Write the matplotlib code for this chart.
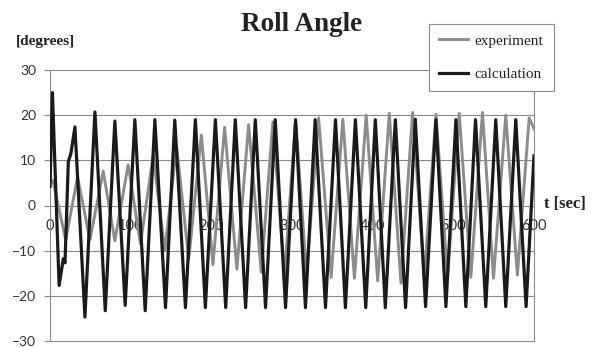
import matplotlib.pyplot as plt

# experiment (gray) - peaks/troughs
t_exp = [0, 2, 4, 19.4, 34.2, 49.5, 66, 80.4, 96.9, 112.2, 127.9, 142.3, 157,
         172, 187.6, 202, 216.5, 231.7, 246.2, 261.9, 276.3, 290.7, 304.5,
         318, 333, 348.5, 363, 377.4, 392, 406.2, 420.6, 435.1, 449.5, 464,
         478.5, 492.8, 507.3, 521.7, 536.1, 549.8, 565, 579.4, 594, 600]
v_exp = [4.8, 5.7, 5.2, -7.6, 6.3, -7.6, 7.6, -7.8, 9.0, -8.5, 11.1, -10, 13,
         -11.9, 15.6, -13.1, 17.3, -14.1, 17.9, -14.8, 18.5, -15.5, 19,
         -15.3, 19.4, -15.9, 19.1, -16.1, 20, -16.7, 20.4, -17.2, 20.6, -15.8,
         20.2, -15.8, 20.4, -15.9, 20.6, -16.1, 20, -15.4, 19.4, 17]

# calculation (black)
t_calc = [0, 3, 11.3, 16.5, 18.6, 22.7, 26, 30.9, 43.3, 55.7, 68.5, 80.4,
          93.2, 105.2, 118, 130, 143.2, 154.7, 167.9, 180.2, 192.6, 205,
          217.8, 229.7, 242.5, 254.5, 267.2, 279.2, 292, 304.4, 316.7, 328.7,
          341.5, 353.9, 366.2, 378.6, 391.4, 403.3, 415.7, 428.1, 440.8,
          452.8, 465.6, 478.4, 490.8, 503.2, 515.5, 527.5, 540.2, 552.6, 565,
          577.4, 590.2, 600]
v_calc = [4.2, 25, -17.7, -11.8, -12.7, 9.7, 11.6, 17.4, -24.7, 20.7, -23.3,
          18.7, -22.1, 19, -23.3, 19, -22.6, 18.9, -22.6, 19, -22.6, 19,
          -22.6, 19, -22.6, 19, -22.6, 19, -22.6, 19, -22.6, 19, -22.6, 19,
          -22.6, 19, -22.6, 19, -22.6, 19, -22.6, 19.1, -22.4, 19, -22.4, 19,
          -22.4, 19, -22.4, 19, -22.4, 19, -22.4, 11]

x_ticks = [0, 100, 200, 300, 400, 500, 600]
y_ticks = [-30, -20, -10, 0, 10, 20, 30]

grid_col = '#8a8a8a'
serif = 'Liberation Serif'

fig = plt.figure(figsize=(5.93, 3.47), dpi=100)
ax = fig.add_axes([50/593, 6/347, 484/593, 271/347])

ax.plot(t_exp, v_exp, color='#8c8c8c', lw=2.1, label='experiment', zorder=3)
ax.plot(t_calc, v_calc, color='#1a1a1a', lw=2.3, label='calculation', zorder=4)

ax.set_xlim(0, 600)
ax.set_ylim(-30, 30)
ax.set_yticks(y_ticks)
ax.set_xticks([])
for y in y_ticks[1:]:
    ax.axhline(y, color=grid_col, lw=0.8, zorder=1)

ax.spines['top'].set_visible(False)
for s in ['left', 'right', 'bottom']:
    ax.spines[s].set_color(grid_col)
    ax.spines[s].set_linewidth(0.8)

ax.tick_params(axis='y', length=4, width=0.8, color=grid_col, pad=6,
               labelsize=10, labelcolor='#333333')
for lbl in ax.get_yticklabels():
    lbl.set_family('Lato')

# x tick labels sit on the zero line
for x in x_ticks:
    ax.annotate(str(x), (x, 0), xytext=(0, -15), textcoords='offset points',
                ha='center', va='center', fontsize=10.5, family='Lato',
                color='#333333', zorder=2)

fig.text(301.5/593, 1 - 31/347, 'Roll Angle', ha='center', va='baseline',
         fontsize=19.5, fontweight='bold', family=serif, color='#222222')
fig.text(16/593, 1 - 41/347, '[degrees]', ha='left', va='center',
         fontsize=11, fontweight='bold', family=serif, color='#222222')
fig.text(544/593, 1 - 204/347, 't [sec]', ha='left', va='center',
         fontsize=12, fontweight='bold', family=serif, color='#222222')

leg = fig.legend(loc='upper left', bbox_to_anchor=(429/593, 1 - 24/347),
                 borderaxespad=0, fancybox=False, framealpha=1,
                 edgecolor=grid_col, handlelength=1.9, handletextpad=0.45,
                 labelspacing=1.3, borderpad=0.65,
                 prop={'family': serif, 'size': 11})
leg.get_frame().set_linewidth(0.8)
for txt in leg.get_texts():
    txt.set_color('#222222')

fig.savefig('out.png', dpi=100)
